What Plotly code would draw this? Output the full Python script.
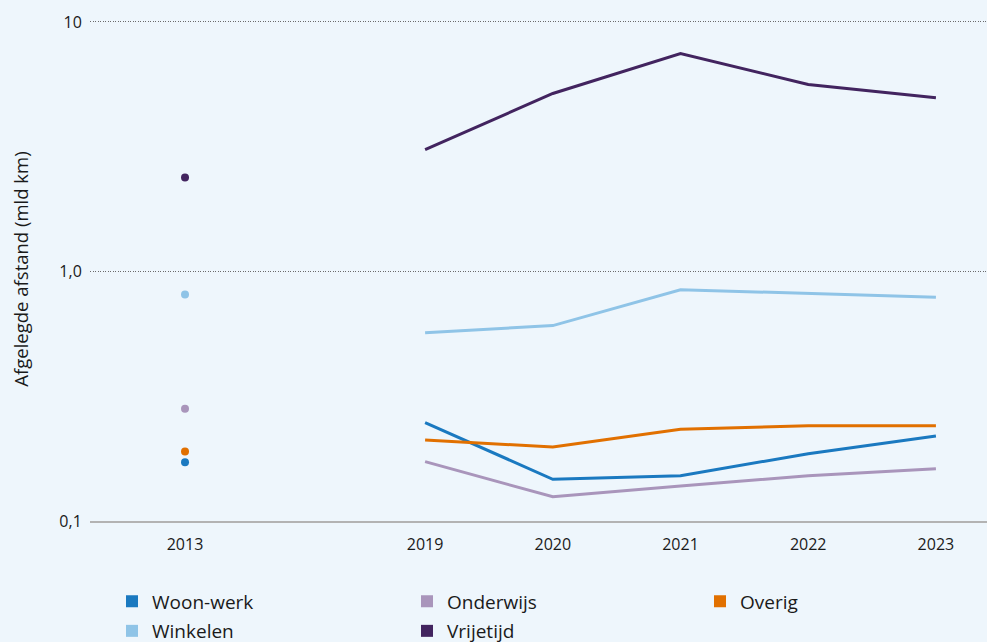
import plotly.graph_objects as go

years = [2013, 2019, 2020, 2021, 2022, 2023]
woon_werk = [0.172, 0.248, 0.147, 0.152, 0.186, 0.219]
winkelen = [0.809, 0.568, 0.607, 0.845, 0.816, 0.789]
onderwijs = [0.282, 0.173, 0.125, 0.138, 0.152, 0.162]
overig = [0.190, 0.211, 0.198, 0.233, 0.241, 0.241]
vrijetijd = [2.38, 3.08, 5.17, 7.48, 5.62, 4.97]

series = [
    ("Woon-werk", woon_werk, "#1a79c0"),
    ("Onderwijs", onderwijs, "#a995bb"),
    ("Overig", overig, "#e17000"),
    ("Winkelen", winkelen, "#8fc4e7"),
    ("Vrijetijd", vrijetijd, "#42245f"),
]

y_ticks = [0.1, 1, 10]
y_ticklabels = ["0,1", "1,0", "10"]

# axis scale: the 2013 point is shown with a shortened gap before 2019
GAP = 1.88
def xpos(y):
    return y if y >= 2019 else 2019 - GAP

xp = [xpos(y) for y in years]

# legend grid: 3 columns, entries filled row by row
LEG_COLS_X = [112, 407, 700]      # px from left
LEG_ROWS_Y = [601.5, 631]         # px from top
W, H = 987, 642

fig = go.Figure()
for name, vals, col in series:
    fig.add_trace(go.Scatter(x=xp[1:], y=vals[1:], mode="lines",
                             line=dict(color=col, width=3), showlegend=False,
                             hoverinfo="skip"))
    fig.add_trace(go.Scatter(x=xp[:1], y=vals[:1], mode="markers",
                             marker=dict(color=col, size=8), showlegend=False,
                             hoverinfo="skip"))

bg = "#eef6fc"
legends = {}
for i, (name, vals, col) in enumerate(series):
    lg = "legend" if i == 0 else f"legend{i + 1}"
    fig.add_trace(go.Scatter(x=[None], y=[None], mode="markers", name=name,
                             legend=lg,
                             marker=dict(color=col, size=9, symbol="square")))
    r, c = divmod(i, 3)
    legends[lg] = dict(orientation="h", xref="container", yref="container",
                       x=LEG_COLS_X[c] / W, y=(H - LEG_ROWS_Y[r]) / H,
                       xanchor="left", yanchor="middle",
                       font=dict(size=19, family="Open Sans", color="#1a1a1a"),
                       bgcolor="rgba(0,0,0,0)", itemsizing="constant")

fig.update_layout(
    width=W, height=H,
    paper_bgcolor=bg, plot_bgcolor=bg,
    margin=dict(l=90, r=0, t=17, b=121),
    font=dict(family="Open Sans", color="#1a1a1a", size=16),
    showlegend=True,
    **legends,
)
fig.update_xaxes(
    range=[xpos(2013) - 0.744, 2023.4],
    tickvals=xp, ticktext=[str(y) for y in years],
    showgrid=False, zeroline=False,
    showline=True, linecolor="#b3b3b3", linewidth=2,
    ticks="outside", ticklen=8, tickcolor="rgba(0,0,0,0)",
    tickfont=dict(size=16),
)
fig.update_yaxes(
    type="log", range=[-1, 1.02],
    tickvals=y_ticks, ticktext=y_ticklabels,
    showgrid=True, gridcolor="#6a6a6a", griddash="1px,1.5px", gridwidth=1,
    zeroline=False, showline=False,
    ticks="outside", ticklen=4, tickcolor="rgba(0,0,0,0)",
    tickfont=dict(size=16),
    title=dict(text="Afgelegde afstand (mld km)", font=dict(size=18.5), standoff=25),
)
fig.write_html("out.html", config={"displayModeBar": False},
               post_script="document.body.style.margin='0';document.body.style.overflow='hidden';")
